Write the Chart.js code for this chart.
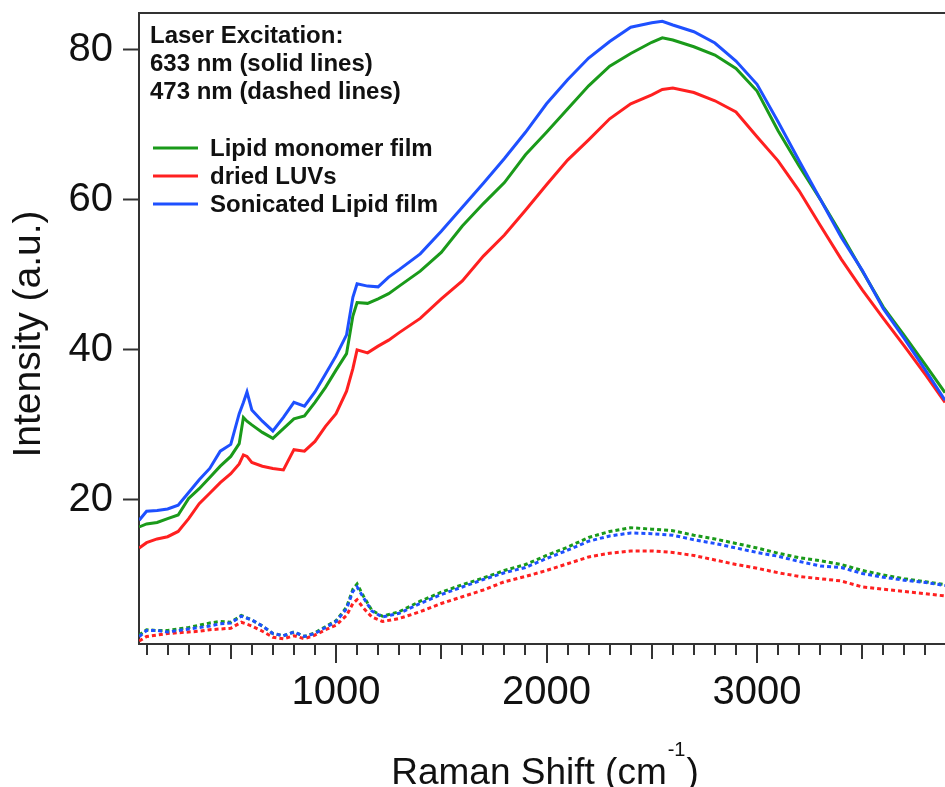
<!DOCTYPE html>
<html>
<head>
<meta charset="utf-8">
<title>Raman spectra</title>
<script src="https://cdn.jsdelivr.net/npm/chart.js@4.4.0/dist/chart.umd.min.js"></script>
<style>
  html, body { margin: 0; padding: 0; background: #fff; overflow: hidden; }
</style>
</head>
<body>
<canvas id="ramanChart" width="945" height="787"></canvas>
<script>
const solidShift = [65, 100, 150, 200, 250, 300, 350, 400, 450, 500,
  540, 560, 577, 600, 650, 700, 750, 800, 850, 900,
  950, 1000, 1050, 1080, 1100, 1150, 1200, 1250, 1300, 1400,
  1500, 1600, 1700, 1800, 1900, 2000, 2100, 2200, 2300, 2400,
  2500, 2550, 2600, 2700, 2800, 2900, 3000, 3100, 3200, 3300,
  3400, 3500, 3600, 3700, 3800, 3893];

// 633 nm excitation (solid lines)
const monomerSolid = [16.4, 16.8, 17.0, 17.5, 18.0, 20.2, 21.5, 23.0, 24.5, 25.8,
  27.5, 31.0, 30.5, 30.0, 29.0, 28.2, 29.5, 30.8, 31.2, 33.0,
  35.0, 37.3, 39.5, 44.5, 46.3, 46.2, 46.8, 47.5, 48.5, 50.5,
  53.0, 56.5, 59.5, 62.3, 66.0, 69.0, 72.1, 75.2, 77.8, 79.5,
  81.0, 81.6, 81.3, 80.4, 79.3, 77.5, 74.5, 69.2, 64.5, 60.1,
  55.4, 50.5, 45.7, 41.9, 38.0, 34.3];
const luvSolid = [13.6, 14.3, 14.8, 15.1, 15.8, 17.5, 19.5, 20.9, 22.3, 23.5,
  24.8, 26.0, 25.8, 25.0, 24.5, 24.2, 24.0, 26.7, 26.5, 27.8,
  29.8, 31.5, 34.5, 37.5, 40.0, 39.6, 40.5, 41.3, 42.3, 44.2,
  46.8, 49.2, 52.5, 55.3, 58.6, 62.0, 65.3, 68.0, 70.8, 72.8,
  74.0, 74.7, 74.9, 74.3, 73.2, 71.7, 68.4, 65.2, 61.2, 56.6,
  52.1, 48.0, 44.2, 40.5, 36.7, 33.0];
const sonicatedSolid = [17.3, 18.5, 18.6, 18.8, 19.3, 21.0, 22.7, 24.2, 26.5, 27.4,
  31.5, 33.0, 34.4, 32.0, 30.5, 29.2, 31.0, 33.0, 32.5, 34.4,
  36.8, 39.2, 42.0, 47.0, 48.8, 48.5, 48.4, 49.7, 50.7, 52.8,
  55.8, 59.0, 62.2, 65.5, 69.0, 72.8, 76.0, 78.9, 81.1, 83.0,
  83.6, 83.8, 83.3, 82.4, 80.9, 78.5, 75.4, 70.4, 65.2, 60.1,
  55.0, 50.6, 45.5, 41.5, 37.3, 33.3];

const dashedShift = [65, 100, 150, 200, 250, 300, 350, 400, 450, 500,
  550, 600, 650, 700, 750, 800, 850, 900, 950, 1000,
  1050, 1080, 1100, 1130, 1170, 1220, 1300, 1400, 1500, 1600,
  1700, 1800, 1900, 2000, 2100, 2200, 2300, 2400, 2500, 2600,
  2700, 2800, 2900, 3000, 3100, 3200, 3300, 3400, 3500, 3600,
  3700, 3800, 3893];

// 473 nm excitation (dashed lines)
const monomerDashed = [2.0, 2.7, 2.6, 2.6, 2.8, 3.0, 3.3, 3.6, 3.8, 3.7,
  4.6, 4.0, 3.2, 2.2, 1.9, 2.4, 1.8, 2.3, 3.1, 3.9,
  5.7, 8.1, 8.8, 7.2, 5.3, 4.5, 5.1, 6.5, 7.7, 8.7,
  9.6, 10.6, 11.4, 12.6, 13.7, 15.0, 15.8, 16.3, 16.1, 15.9,
  15.3, 14.8, 14.2, 13.6, 12.9, 12.3, 11.9, 11.4, 10.6, 10.0,
  9.5, 9.1, 8.7];
const luvDashed = [1.2, 1.8, 2.0, 2.2, 2.3, 2.4, 2.5, 2.7, 2.8, 2.9,
  3.7, 3.2, 2.5, 1.7, 1.5, 1.9, 1.5, 2.0, 2.7, 3.3,
  4.6, 6.2, 6.7, 5.6, 4.4, 3.8, 4.2, 5.1, 6.2, 7.1,
  8.0, 9.1, 9.8, 10.6, 11.5, 12.4, 12.9, 13.2, 13.2, 13.0,
  12.6, 12.0, 11.4, 10.9, 10.3, 9.8, 9.5, 9.2, 8.4, 8.1,
  7.8, 7.5, 7.2];
const sonicatedDashed = [1.8, 2.6, 2.6, 2.4, 2.6, 2.8, 3.0, 3.2, 3.5, 3.6,
  4.5, 4.0, 3.2, 2.2, 1.9, 2.4, 1.8, 2.2, 3.0, 3.8,
  5.5, 7.8, 8.4, 7.0, 5.2, 4.4, 4.9, 6.2, 7.4, 8.4,
  9.4, 10.3, 11.0, 12.2, 13.3, 14.5, 15.2, 15.6, 15.5, 15.3,
  14.7, 14.2, 13.6, 13.0, 12.5, 11.8, 11.2, 11.0, 10.2, 9.7,
  9.3, 9.0, 8.6];

const seriesNames = ["Lipid monomer film", "dried LUVs", "Sonicated Lipid film"];
const seriesColors = ["#1a9a1a", "#ff2020", "#1e50ff"];
const noteLines = ["Laser Excitation:", "633 nm (solid lines)", "473 nm (dashed lines)"];
const xLabelValues = [1000, 2000, 3000];
const yTickValues = [20, 40, 60, 80];

const FONT = '"Liberation Sans", Arial, Helvetica, sans-serif';
const AXIS_COLOR = "#333";
const TEXT_COLOR = "#111";

function toPoints(xs, ys) {
  return xs.map((x, i) => ({ x: x, y: ys[i] }));
}

// solid = 633 nm, dashed = 473 nm ; blue drawn on top
const datasets = [
  { label: seriesNames[0], data: toPoints(solidShift, monomerSolid), borderColor: seriesColors[0], order: 1 },
  { label: seriesNames[1], data: toPoints(solidShift, luvSolid), borderColor: seriesColors[1], order: 2 },
  { label: seriesNames[2], data: toPoints(solidShift, sonicatedSolid), borderColor: seriesColors[2], order: 0 },
  { label: seriesNames[0] + " (473)", data: toPoints(dashedShift, monomerDashed), borderColor: seriesColors[0], borderDash: [4, 3], borderWidth: 3, order: 4 },
  { label: seriesNames[1] + " (473)", data: toPoints(dashedShift, luvDashed), borderColor: seriesColors[1], borderDash: [4, 3], borderWidth: 3, order: 5 },
  { label: seriesNames[2] + " (473)", data: toPoints(dashedShift, sonicatedDashed), borderColor: seriesColors[2], borderDash: [4, 3], borderWidth: 3, order: 3 },
];

// no extra padding from tick labels, so the plot box sits where we want it
function noPadding(scale) {
  scale.paddingTop = 0;
  scale.paddingBottom = 0;
  scale.paddingLeft = 0;
  scale.paddingRight = 0;
}

// frame top line, x tick marks, axis titles, note + legend
const decorPlugin = {
  id: "decor",
  afterDraw(chart) {
    const { ctx, chartArea, scales } = chart;
    const xs = scales.x;
    ctx.save();

    ctx.strokeStyle = AXIS_COLOR;
    ctx.lineWidth = 2;
    ctx.beginPath();
    ctx.moveTo(chartArea.left - 1, chartArea.top);
    ctx.lineTo(chartArea.right, chartArea.top);
    ctx.stroke();

    xs.ticks.forEach((t) => {
      const px = Math.round(xs.getPixelForValue(t.value));
      const len = t.value % 1000 === 0 ? 19 : t.value % 500 === 0 ? 15 : 11;
      ctx.beginPath();
      ctx.moveTo(px, chartArea.bottom);
      ctx.lineTo(px, chartArea.bottom + len);
      ctx.stroke();
    });

    // x title with superscript
    ctx.fillStyle = TEXT_COLOR;
    ctx.textBaseline = "alphabetic";
    ctx.textAlign = "left";
    const mainTxt = "Raman Shift (cm";
    const supTxt = "-1";
    const endTxt = ")";
    ctx.font = "37px " + FONT;
    const wMain = ctx.measureText(mainTxt).width;
    const wEnd = ctx.measureText(endTxt).width;
    ctx.font = "20px " + FONT;
    const wSup = ctx.measureText(supTxt).width;
    let tx = 545 - (wMain + wSup + wEnd + 2) / 2;
    ctx.font = "37px " + FONT;
    ctx.fillText(mainTxt, tx, 784);
    tx += wMain + 1;
    ctx.font = "20px " + FONT;
    ctx.fillText(supTxt, tx, 756);
    tx += wSup + 1;
    ctx.font = "37px " + FONT;
    ctx.fillText(endTxt, tx, 784);

    // y title
    ctx.save();
    ctx.translate(40, 334);
    ctx.rotate(-Math.PI / 2);
    ctx.textAlign = "center";
    ctx.font = "39px " + FONT;
    ctx.fillText("Intensity (a.u.)", 0, 0);
    ctx.restore();

    // note text
    ctx.font = "bold 24px " + FONT;
    ctx.textAlign = "left";
    noteLines.forEach((line, i) => {
      ctx.fillText(line, 150, 43 + i * 28);
    });

    // legend
    seriesNames.forEach((name, i) => {
      const base = 156 + i * 28;
      ctx.strokeStyle = seriesColors[i];
      ctx.lineWidth = 3;
      ctx.beginPath();
      ctx.moveTo(153, base - 8);
      ctx.lineTo(198, base - 8);
      ctx.stroke();
      ctx.fillStyle = TEXT_COLOR;
      ctx.fillText(name, 210, base);
    });

    ctx.restore();
  },
};

const ctx = document.getElementById("ramanChart");
new Chart(ctx, {
  type: "line",
  data: { datasets: datasets },
  options: {
    responsive: false,
    animation: false,
    layout: { padding: { top: 13, left: 0, right: 0, bottom: 0 } },
    elements: {
      point: { radius: 0 },
      line: { borderWidth: 3, tension: 0 },
    },
    plugins: {
      legend: { display: false },
      tooltip: { enabled: false },
    },
    scales: {
      x: {
        type: "linear",
        min: 64,
        max: 3893,
        afterFit: (scale) => { scale.height = 143; noPadding(scale); },
        afterBuildTicks: (scale) => {
          const ticks = [];
          for (let v = 100; v <= scale.max; v += 100) ticks.push({ value: v });
          scale.ticks = ticks;
        },
        grid: { display: true, drawOnChartArea: false, drawTicks: false },
        border: { display: true, color: AXIS_COLOR, width: 2 },
        ticks: {
          autoSkip: false,
          maxRotation: 0,
          padding: 25,
          color: TEXT_COLOR,
          font: { family: FONT, size: 40 },
          callback: (v) => (xLabelValues.includes(v) ? String(v) : ""),
        },
      },
      y: {
        type: "linear",
        min: 0.8,
        max: 84.9,
        afterFit: (scale) => { scale.width = 139; noPadding(scale); },
        afterBuildTicks: (scale) => {
          scale.ticks = yTickValues.map((v) => ({ value: v }));
        },
        grid: { display: true, drawOnChartArea: false, drawTicks: true, tickLength: 16, tickWidth: 2, tickColor: AXIS_COLOR },
        border: { display: true, color: AXIS_COLOR, width: 2 },
        ticks: {
          padding: 10,
          color: TEXT_COLOR,
          font: { family: FONT, size: 40 },
        },
      },
    },
  },
  plugins: [decorPlugin],
});
</script>
</body>
</html>
